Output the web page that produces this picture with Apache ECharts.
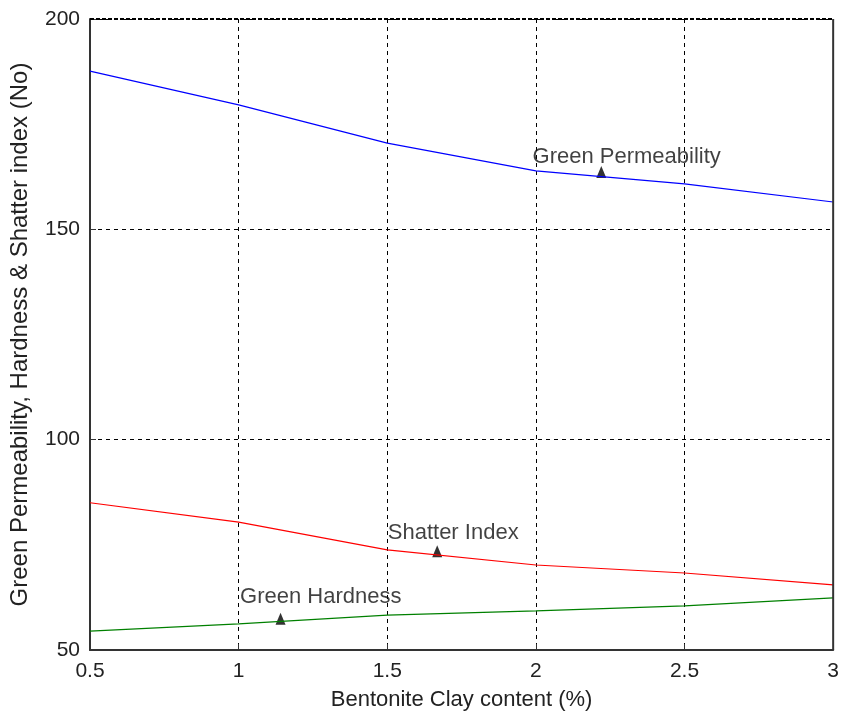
<!DOCTYPE html>
<html><head><meta charset="utf-8">
<script src="https://cdn.jsdelivr.net/npm/echarts@6/dist/echarts.min.js"></script>
<style>html,body{margin:0;padding:0;background:#fff}#c{width:842px;height:718px}</style>
</head><body><div id="c"></div>
<script>
const clay = [0.5, 1, 1.5, 2, 2.5, 3];
const permeability = [187.6, 179.6, 170.5, 163.9, 160.8, 156.5];
const shatter = [85.0, 80.4, 73.8, 70.2, 68.3, 65.5];
const hardness = [54.5, 56.2, 58.3, 59.3, 60.5, 62.4];
const labels = [
  {name: 'Green Permeability', tri: [2.22, 163.6], text: [1.987, 167.2]},
  {name: 'Shatter Index', tri: [1.668, 73.5], text: [1.5, 77.8]},
  {name: 'Green Hardness', tri: [1.141, 57.4], text: [1.003, 62.6]}
];
const font = 'Liberation Sans, Arial, sans-serif';
const pair = a => clay.map((x, i) => [x, a[i]]);
const chart = echarts.init(document.getElementById('c'));
const line = (d, c) => ({type: 'line', data: pair(d), symbol: 'none', lineStyle: {color: c, width: 1.2}, silent: true});
chart.setOption({
  animation: false,
  grid: {left: 90, right: 7, top: 19, bottom: 68, show: false},
  xAxis: {
    type: 'value', min: 0.5, max: 3, interval: 0.5,
    name: 'Bentonite Clay content (%)', nameLocation: 'middle', nameGap: 39,
    nameTextStyle: {fontFamily: font, fontSize: 22, color: '#222'},
    axisLine: {show: true, onZero: false, lineStyle: {color: '#333', width: 2}},
    axisTick: {show: true, inside: true, length: 6, lineStyle: {color: '#333'}},
    axisLabel: {fontFamily: font, fontSize: 21, color: '#222', margin: 11},
    splitLine: {show: true, lineStyle: {color: '#000', type: [4, 4], width: 1}}
  },
  yAxis: {
    type: 'value', min: 50, max: 200, interval: 50,
    name: 'Green Permeability, Hardness & Shatter index (No)', nameLocation: 'middle', nameGap: 58,
    nameTextStyle: {fontFamily: font, fontSize: 24, color: '#222'},
    axisLine: {show: true, lineStyle: {color: '#333', width: 2}},
    axisTick: {show: true, inside: true, length: 6, lineStyle: {color: '#333'}},
    axisLabel: {fontFamily: font, fontSize: 21, color: '#222', margin: 10},
    splitLine: {show: true, lineStyle: {color: '#000', type: [4, 4], width: 1}}
  },
  series: [
    line(permeability, '#0000ff'),
    line(shatter, '#ff0000'),
    line(hardness, '#008000'),
    {type: 'line', data: [[3, 50], [3, 200]], symbol: 'none', lineStyle: {color: '#333', width: 2}, silent: true},
    {type: 'line', data: [[0.5, 200], [3, 200]], symbol: 'none', lineStyle: {color: '#000', width: 2, type: [4, 2]}, silent: true},
    {type: 'scatter', data: labels.map(l => l.tri), symbol: 'triangle', symbolSize: [10, 12], itemStyle: {color: '#000'}, silent: true},
    {type: 'scatter', data: labels.map(l => ({value: l.text, name: l.name})), symbolSize: 1, itemStyle: {color: 'rgba(0,0,0,0)'},
     label: {show: true, position: 'right', distance: 0, formatter: p => p.name, fontFamily: font, fontSize: 22, color: '#111'}, silent: true}
  ]
});
</script></body></html>
